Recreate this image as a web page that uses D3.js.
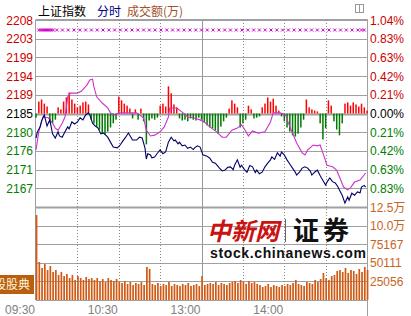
<!DOCTYPE html>
<html>
<head>
<meta charset="utf-8">
<script src="https://cdn.jsdelivr.net/npm/d3@7"></script>
<style>
  body { margin: 0; background: #fff; }
  text { font-family: "Liberation Sans", Arial, "Noto Sans CJK SC", sans-serif; }
</style>
</head>
<body>
<div id="chart"></div>
<script>
/*
 * Intraday chart: SSE index, minute line + volume
 */

var basePrice = 2185.25;
var priceStep = 4.54;

// tick labels, top to bottom
var priceLabels = ["2208", "2203", "2199", "2194", "2189", "2185", "2180", "2176", "2171", "2167"];
var pctLabels = ["1.04%", "0.83%", "0.63%", "0.42%", "0.21%", "0.00%", "0.21%", "0.42%", "0.63%", "0.83%"];
var volLabels = ["12.5万", "10.0万", "75167", "50111", "25056"];
var volTicks = [125280, 100224, 75167, 50111, 25056];
var timeLabels = ["09:30", "10:30", "13:00", "14:00"];
var timeTicks = [0, 60, 120, 180];

// [minute, price]
var avgLine = [[0,2176.4],[2,2180.8],[5,2184.4],[9,2184.2],[12,2182.9],[14,2181.7],[16,2181.2],[19,2182.9],[21,2184.4],[23,2189.3],[25,2190.2],[30,2190.2],[33,2190.7],[37,2192.2],[39,2193.4],[41,2193.6],[42,2191.7],[44,2189.3],[48,2187.8],[52,2186.6],[54,2185.4],[57,2184.9],[60,2185.4],[73,2185.4],[78,2184.2],[80,2181.2],[83,2179.8],[86,2180.0],[90,2180.8],[93,2182.0],[96,2184.4],[97,2186.6],[102,2186.6],[106,2185.6],[110,2184.4],[114,2184.2],[119,2183.7],[122,2183.2],[126,2182.0],[131,2180.8],[135,2179.5],[138,2179.5],[142,2181.2],[146,2181.7],[149,2182.5],[152,2181.0],[154,2179.8],[157,2181.0],[161,2180.5],[166,2180.8],[170,2183.2],[172,2185.4],[177,2185.4],[181,2184.9],[183,2182.9],[186,2180.5],[189,2178.1],[193,2175.7],[195,2175.2],[197,2176.4],[201,2177.6],[204,2177.4],[206,2177.6],[208,2175.7],[211,2172.7],[215,2172.3],[218,2171.5],[223,2167.4],[226,2166.7],[228,2167.2],[231,2168.6],[235,2169.1],[239,2170.8]];

var priceLine = [[0,2179.3],[1,2180.8],[3,2182.0],[4,2183.4],[6,2184.9],[8,2182.2],[10,2183.7],[12,2180.3],[14,2179.3],[16,2180.8],[17,2179.8],[19,2179.5],[21,2180.8],[23,2182.0],[24,2181.5],[26,2183.2],[28,2182.7],[30,2183.2],[32,2184.2],[34,2183.7],[36,2184.9],[38,2185.4],[39,2184.9],[41,2182.9],[43,2182.2],[45,2181.7],[47,2180.3],[49,2180.5],[52,2179.5],[54,2178.3],[56,2177.1],[59,2176.9],[61,2177.6],[63,2178.6],[65,2179.5],[67,2180.5],[70,2178.8],[73,2178.8],[75,2179.5],[77,2179.3],[79,2176.9],[80,2174.2],[81,2175.5],[83,2175.2],[84,2174.5],[86,2174.7],[88,2175.6],[90,2176.4],[92,2175.5],[94,2175.9],[96,2178.3],[98,2179.5],[100,2178.6],[101,2178.8],[103,2177.9],[104,2178.3],[106,2177.4],[108,2177.6],[110,2176.8],[112,2177.1],[114,2176.5],[115,2176.9],[117,2177.4],[119,2177.1],[121,2175.2],[124,2174.9],[126,2174.4],[128,2173.4],[130,2173.2],[132,2172.4],[133,2172.0],[135,2171.3],[137,2171.5],[139,2172.2],[141,2172.3],[143,2171.6],[144,2172.7],[146,2174.0],[148,2172.2],[149,2172.7],[151,2171.7],[153,2171.0],[155,2172.6],[157,2172.3],[159,2170.9],[160,2171.5],[162,2170.6],[164,2171.0],[166,2172.3],[168,2173.2],[170,2174.0],[171,2174.7],[173,2174.1],[175,2175.7],[177,2174.9],[178,2175.9],[180,2175.2],[182,2174.0],[184,2173.0],[186,2172.0],[188,2171.0],[189,2170.3],[191,2171.0],[193,2172.0],[195,2172.3],[197,2172.0],[199,2171.2],[200,2170.3],[202,2171.0],[204,2171.5],[206,2170.2],[207,2169.6],[210,2167.9],[211,2168.6],[213,2169.6],[215,2168.7],[217,2168.4],[219,2167.4],[220,2166.7],[222,2165.4],[224,2163.5],[226,2165.0],[227,2164.2],[229,2165.9],[231,2165.4],[233,2166.2],[235,2166.0],[236,2167.4],[238,2167.8],[239,2167.4]];

// red / green bars around the base line, one per 2 minutes (points)
var powerBars = [-1.0,2.9,3.4,2.4,1.7,-2.2,-2.4,-1.5,1.5,1.0,
  2.9,3.9,5.1,3.4,2.4,1.5,1.9,2.7,2.9,2.2,
  -1.5,-2.4,-3.2,-3.9,-4.9,-5.1,-4.4,-3.4,-2.4,-1.5,
  4.1,3.2,2.4,1.9,1.2,-1.2,1.0,-1.5,1.2,-1.9,
  -7.5,-1.7,-1.2,-1.5,-1.0,1.9,2.4,1.7,6.6,4.9,
  2.2,1.5,-1.2,-1.7,-1.5,-1.9,-1.2,-1.5,-1.7,-1.0,
  -1.5,-2.2,-2.9,-3.4,-3.6,-4.1,-4.9,-3.2,-1.9,-1.0,
  1.2,3.2,2.4,1.5,-3.4,-2.4,-1.5,1.9,1.0,-1.2,
  -1.0,-0.7,1.5,2.4,3.9,2.9,3.6,1.9,0.7,-0.7,
  -1.9,-3.4,-4.4,-5.3,-5.6,-4.9,-3.4,-1.5,3.4,1.5,
  1.0,0.7,0.5,-2.4,-6.3,-3.6,3.2,1.9,-1.9,-3.9,
  -5.3,-2.4,2.4,2.7,1.9,2.7,2.2,1.7,2.4,1.5,0.7];

// volume, one per 2 minutes
var volumes = [114500,
  51200,43100,48500,40400,45800,37700,40400,33700,37700,32300,
  35000,29600,33700,26900,32300,29600,26900,31000,28300,29600,
  26900,29600,25600,28300,24200,29600,26900,25600,28300,24200,
  22900,25600,21600,24200,20200,22900,21600,24200,20200,44500,
  41800,21600,20200,22900,18900,21600,20200,24200,18900,21600,
  20200,18900,21600,20200,22900,18900,20200,21600,18900,32300,
  20200,21600,22900,21600,24200,20200,22900,21600,20200,22900,
  24200,25600,22900,26900,24200,21600,25600,22900,24200,21600,
  20200,17500,18900,21600,17500,20200,18900,17500,20200,18900,
  21600,20200,22900,26900,21600,20200,18900,24200,22900,21600,
  26900,24200,28300,36400,29600,26900,32300,33700,39100,40400,
  37700,43100,36400,40400,39100,35000,41800,37700,44500,40400];

var COLORS = {
  grid: "#a0a0a0",
  up: "#cc0000",
  flat: "#000000",
  down: "#008000",
  redBar: "#ff0000",
  greenBar: "#007a00",
  price: "#000066",
  avg: "#cc33cc",
  vol: "#d05a14",
  volText: "#c8641e",
  time: "#808080"
};

var W = 411, H = 316;
var padLeft = 36, padRight = 367, plotTop = 20, plotMid = 207, plotBottom = 300;

var svg = d3.select("#chart").append("svg").attr("width", W).attr("height", H)
  .style("background", "#fff");

var x = d3.scaleLinear().domain([0, 240]).range([padLeft, padRight]);
var y = d3.scaleLinear().domain([basePrice - 5 * priceStep, basePrice + 5 * priceStep]).range([plotMid, plotTop]);
var yv = d3.scaleLinear().domain([0, 125280]).range([plotBottom, plotMid]);

// title
var title = svg.append("text").attr("y", 16).attr("font-size", 12)
  .style("font-family", "'Noto Sans CJK SC', sans-serif");
title.append("tspan").attr("x", 38).attr("fill", "#000").text("上证指数");
title.append("tspan").attr("x", 97).attr("fill", "#000080").text("分时");
title.append("tspan").attr("x", 127).attr("fill", "#a0522d").text("成交额(万)");

// small icon top right
svg.append("rect").attr("x", 355.5).attr("y", 4.5).attr("width", 8).attr("height", 8)
  .attr("fill", "none").attr("stroke", "#999");
svg.append("line").attr("x1", 359.5).attr("x2", 359.5).attr("y1", 4.5).attr("y2", 12.5).attr("stroke", "#999");

// horizontal grid, price panel
var gridLevels = d3.range(5, -5, -1);
svg.selectAll(".hgrid").data(gridLevels).enter().append("line")
  .attr("x1", padLeft).attr("x2", padRight)
  .attr("y1", function(k){ return Math.round(y(basePrice + k * priceStep)) + 0.5; })
  .attr("y2", function(k){ return Math.round(y(basePrice + k * priceStep)) + 0.5; })
  .attr("stroke", COLORS.grid)
  .attr("stroke-width", function(k){ return k == 0 ? 2 : 1; });

// horizontal grid, volume panel
svg.selectAll(".vgrid").data(volTicks).enter().append("line")
  .attr("x1", padLeft).attr("x2", padRight)
  .attr("y1", function(v){ return Math.round(yv(v)) + 0.5; })
  .attr("y2", function(v){ return Math.round(yv(v)) + 0.5; })
  .attr("stroke", COLORS.grid)
  .attr("stroke-width", function(v, i){ return i == 0 ? 2 : 1; });
svg.append("line").attr("x1", padLeft).attr("x2", padRight).attr("y1", plotBottom + 0.5).attr("y2", plotBottom + 0.5)
  .attr("stroke", COLORS.grid);

// vertical grid every 30 minutes
var vLines = [30, 60, 90, 120, 150, 180, 210];
svg.selectAll(".tgrid").data(vLines).enter().append("line")
  .attr("x1", function(m){ return Math.round(x(m)) + 0.5; })
  .attr("x2", function(m){ return Math.round(x(m)) + 0.5; })
  .attr("y1", plotTop).attr("y2", plotBottom)
  .attr("stroke", function(m){ return m == 120 ? "#999" : "#888"; })
  .attr("stroke-dasharray", function(m){ return m == 120 ? null : "1,2"; });

// frame
svg.append("line").attr("x1", padLeft - 0.5).attr("x2", padLeft - 0.5).attr("y1", plotTop).attr("y2", plotBottom)
  .attr("stroke", COLORS.grid);
svg.append("line").attr("x1", padRight + 0.5).attr("x2", padRight + 0.5).attr("y1", plotTop - 1).attr("y2", H)
  .attr("stroke", COLORS.grid);
svg.append("line").attr("x1", padLeft - 0.5).attr("x2", padRight).attr("y1", plotTop - 0.5).attr("y2", plotTop - 0.5)
  .attr("stroke", COLORS.grid);

// watermark
var wm = svg.append("g");
wm.append("text").attr("x", 207).attr("y", 240).attr("font-size", 24).attr("fill", "#cc1111")
  .style("font-family", "'Noto Sans CJK SC', serif").attr("font-style", "italic").attr("font-weight", "bold")
  .attr("textLength", 72).text("中新网");
wm.append("line").attr("x1", 285.5).attr("x2", 285.5).attr("y1", 219).attr("y2", 242)
  .attr("stroke", "#666").attr("stroke-width", 1);
wm.append("text").attr("x", 293).attr("y", 240).attr("font-size", 26).attr("fill", "#111")
  .style("font-family", "'Noto Sans CJK SC', sans-serif").attr("font-weight", "bold")
  .attr("textLength", 56).text("证券");
wm.append("text").attr("x", 210).attr("y", 258).attr("font-size", 14).attr("font-weight", "bold")
  .attr("fill", "#111").attr("textLength", 156).text("stock.chinanews.com");

// marker row
var markMinutes = d3.range(2, 14, 1.5).concat(d3.range(15, 236, 4.2)).concat([236, 238]);
svg.selectAll(".mark").data(markMinutes).enter().append("path")
  .attr("transform", function(m){ return "translate(" + x(m) + "," + 30 + ")"; })
  .attr("d", "M-1.5,-1.5L1.5,1.5M-1.5,1.5L1.5,-1.5")
  .attr("stroke", "#cc00cc").attr("stroke-width", 1).attr("fill", "none");

// red/green bars
svg.selectAll(".pbar").data(powerBars).enter().append("rect")
  .attr("x", function(d, i){ return x(i * 2) - 0.7; })
  .attr("width", 1.5)
  .attr("y", function(d){ return d > 0 ? y(basePrice + d) : y(basePrice); })
  .attr("height", function(d){ return Math.abs(y(basePrice + d) - y(basePrice)); })
  .attr("fill", function(d){ return d > 0 ? COLORS.redBar : COLORS.greenBar; });

// lines
var line = d3.line().x(function(d){ return x(d[0]); }).y(function(d){ return y(d[1]); });
svg.append("path").datum(avgLine).attr("d", line).attr("fill", "none")
  .attr("stroke", COLORS.avg).attr("stroke-width", 1.1);
svg.append("path").datum(priceLine).attr("d", line).attr("fill", "none")
  .attr("stroke", COLORS.price).attr("stroke-width", 1.1);

// volume bars
svg.selectAll(".vbar").data(volumes).enter().append("rect")
  .attr("x", function(d, i){ return x(i * 2) - 0.3; })
  .attr("width", 1.7)
  .attr("y", function(d){ return yv(d); })
  .attr("height", function(d){ return yv(0) - yv(d); })
  .attr("fill", COLORS.vol);

// left price labels
function labelColor(i){ return i < 5 ? COLORS.up : (i == 5 ? COLORS.flat : COLORS.down); }
svg.selectAll(".plab").data(priceLabels).enter().append("text")
  .attr("x", 33).attr("text-anchor", "end").attr("font-size", 12)
  .attr("y", function(d, i){ return y(basePrice + (5 - i) * priceStep) + 4.5; })
  .attr("fill", function(d, i){ return labelColor(i); })
  .text(function(d){ return d; });

// right percent labels
svg.selectAll(".rlab").data(pctLabels).enter().append("text")
  .attr("x", 370).attr("font-size", 12)
  .attr("y", function(d, i){ return y(basePrice + (5 - i) * priceStep) + 4.5; })
  .attr("fill", function(d, i){ return labelColor(i); })
  .text(function(d){ return d; });

// right volume labels
svg.selectAll(".vlab").data(volLabels).enter().append("text")
  .attr("x", 370).attr("font-size", 12)
  .attr("y", function(d, i){ return yv(volTicks[i]) + 4.5; })
  .attr("fill", COLORS.volText)
  .style("font-family", "'Liberation Sans', 'Noto Sans CJK SC', sans-serif")
  .text(function(d){ return d; });

// time labels
svg.selectAll(".tlab").data(timeLabels).enter().append("text")
  .attr("x", function(d, i){ return x(timeTicks[i]) - 1; })
  .attr("y", 314).attr("text-anchor", "end").attr("font-size", 12)
  .attr("fill", COLORS.time)
  .text(function(d){ return d; });

// little brown badge, bottom left
svg.append("rect").attr("x", 0).attr("y", 275).attr("width", 34).attr("height", 19).attr("fill", "#b8600f");
svg.append("text").attr("x", -6).attr("y", 289).attr("font-size", 12).attr("fill", "#fff4dc")
  .style("font-family", "'Noto Sans CJK SC', sans-serif").text("股股典");
</script>
</body>
</html>
